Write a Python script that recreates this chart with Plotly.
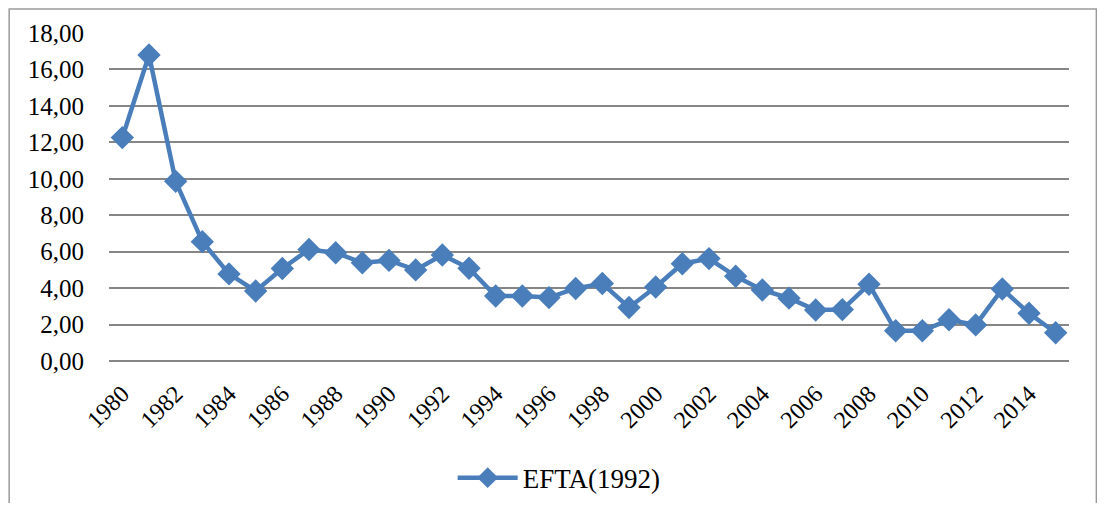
import plotly.graph_objects as go

years = [str(y) for y in range(1980, 2016)]
efta_1992 = [12.26, 16.79, 9.86, 6.55, 4.78, 3.84, 5.08, 6.12, 5.94, 5.39,
             5.52, 5.00, 5.82, 5.09, 3.57, 3.57, 3.48, 3.98, 4.25, 2.94,
             4.06, 5.34, 5.62, 4.65, 3.90, 3.45, 2.80, 2.82, 4.21, 1.66,
             1.66, 2.26, 1.98, 3.95, 2.62, 1.55]
tick_labels = years[::2]
y_ticks = [0, 2, 4, 6, 8, 10, 12, 14, 16, 18]

SERIF = "Liberation Serif, Times New Roman, serif"

fig = go.Figure()
fig.add_trace(go.Scatter(
    x=years, y=efta_1992, name="EFTA(1992)", mode="lines+markers",
    line=dict(color="#4A7EBB", width=4.5),
    marker=dict(symbol="diamond", size=18, color="#4A7EBB"),
))

fig.update_layout(
    template="none",
    width=1089, height=495,
    margin=dict(l=101, r=28, t=25, b=142, autoexpand=False),
    paper_bgcolor="white", plot_bgcolor="white",
    separators=",.",
    font=dict(family=SERIF, size=22, color="black"),
    showlegend=True,
    legend=dict(orientation="h", x=0.358, xanchor="left", y=-0.357, yanchor="middle",
                itemwidth=60,
                font=dict(family=SERIF, size=27, color="black")),
    shapes=[dict(type="rect", xref="paper", yref="paper",
                 x0=-0.104, x1=1.0285, y0=-0.6, y1=1.073,
                 line=dict(color="#9a9a9a", width=1.5), layer="below")],
)
fig.update_xaxes(type="category", range=[-0.5, 35.5], tickmode="array",
                 tickvals=tick_labels, ticktext=tick_labels,
                 tickangle=-45, showgrid=False, showline=False, ticks="", automargin=False,
                 ticklabelstandoff=13,
                 tickfont=dict(family=SERIF, size=24, color="black"))
fig.update_yaxes(range=[0, 18], tickvals=y_ticks, tickformat=".2f", automargin=False,
                 showgrid=True, gridcolor="#868686", gridwidth=1.8,
                 zeroline=True, zerolinecolor="#868686", zerolinewidth=1.8,
                 showline=False, ticks="", ticklabelstandoff=24,
                 tickfont=dict(family=SERIF, size=25, color="black"))
fig.write_html("out.html")
